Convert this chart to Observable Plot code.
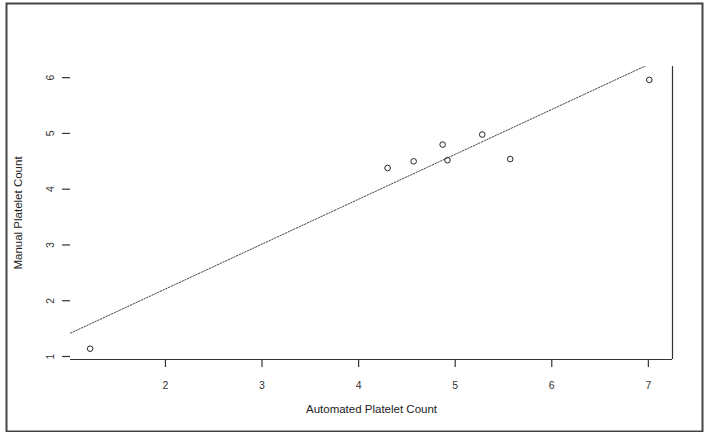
<!DOCTYPE html>
<html>
<head>
<meta charset="utf-8">
<script src="https://cdn.jsdelivr.net/npm/d3@7"></script>
<script src="https://cdn.jsdelivr.net/npm/@observablehq/plot@0.6"></script>
<style>
  html, body { margin: 0; padding: 0; background: #fff; }
  #chart svg { display: block; }
</style>
</head>
<body>
<div id="chart"></div>
<script>
// Data
const automated = [1.22, 4.30, 4.57, 4.87, 4.92, 5.28, 5.57, 7.01];
const manual    = [1.14, 4.38, 4.50, 4.80, 4.52, 4.98, 4.54, 5.96];
const xTicks = [2, 3, 4, 5, 6, 7];
const yTicks = [1, 2, 3, 4, 5, 6];
const xDomain = [1.017, 7.25];
const yDomain = [0.946, 6.2];
// fitted line
const fitIntercept = 0.60;
const fitSlope = 0.805;
const xTitle = "Automated Platelet Count";
const yTitle = "Manual Platelet Count";

const points = automated.map((x, i) => ({x, y: manual[i]}));
const fit = xDomain.map(x => ({x, y: fitIntercept + fitSlope * x}));

const ink = "#333";
const font = "Liberation Sans, Arial, Helvetica, sans-serif";

const chart = Plot.plot({
  width: 708,
  height: 432,
  marginLeft: 70,
  marginRight: 36,
  marginTop: 66,
  marginBottom: 73,
  style: {fontFamily: font, background: "#fff", color: ink},
  x: {domain: xDomain},
  y: {domain: yDomain},
  marks: [
    // outer border around the whole image
    Plot.frame({stroke: "#444", strokeWidth: 2,
      insetLeft: -64, insetTop: -63, insetRight: -30, insetBottom: -72}),
    // partial plot box: bottom and right
    Plot.ruleY([yDomain[0]], {stroke: ink, strokeWidth: 1.2}),
    Plot.ruleX([xDomain[1]], {y1: yDomain[0], y2: yDomain[1], stroke: ink, strokeWidth: 1.2}),
    // x axis
    Plot.axisX(xTicks, {tickSize: 8, tickPadding: 14, fontSize: 10.5, color: ink, label: null, strokeWidth: 1.2}),
    // y axis ticks and rotated labels
    Plot.axisY(yTicks, {tickSize: 8, tickFormat: () => "", label: null, stroke: ink, strokeWidth: 1.2}),
    Plot.text(yTicks, {y: d => d, text: d => String(d), frameAnchor: "left", textAnchor: "middle", dx: -20, rotate: -90, fontSize: 10.5, fill: ink}),
    // titles
    Plot.text([xTitle], {frameAnchor: "bottom", textAnchor: "middle", dy: 53, fontSize: 11.5, fill: "#222"}),
    Plot.text([yTitle], {frameAnchor: "left", textAnchor: "middle", dx: -52, rotate: -90, fontSize: 11.5, fill: "#222"}),
    // fit line
    Plot.line(fit, {x: "x", y: "y", stroke: "#444", strokeWidth: 1, strokeDasharray: "1.5,1.5", clip: true}),
    // points
    Plot.dot(points, {x: "x", y: "y", r: 2.8, stroke: "#222", strokeWidth: 1, fill: "none"})
  ]
});
document.getElementById("chart").append(chart);
</script>
</body>
</html>
